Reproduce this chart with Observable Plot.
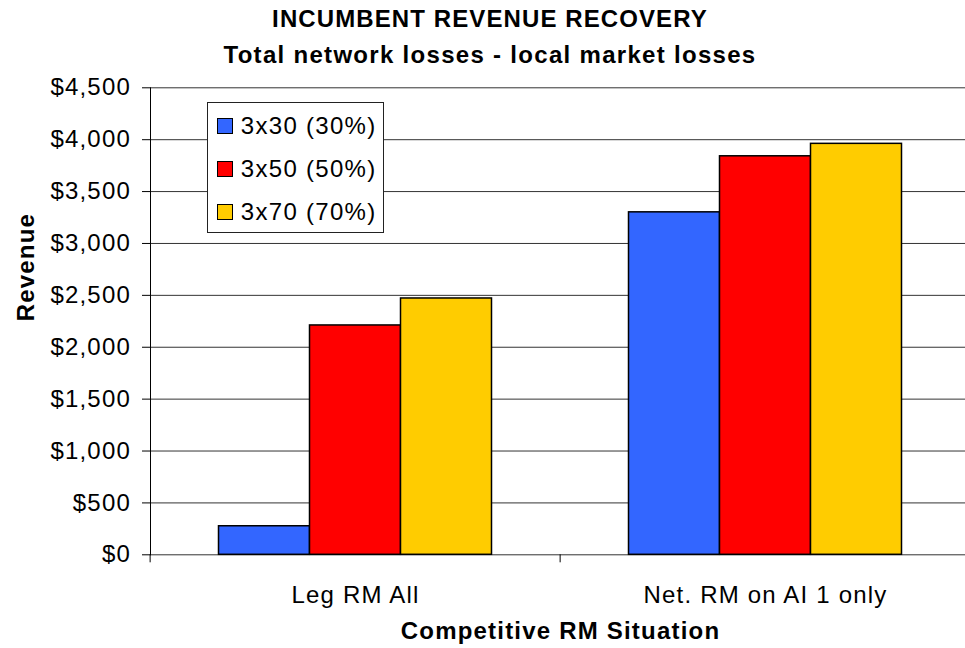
<!DOCTYPE html>
<html>
<head>
<meta charset="utf-8">
<script src="https://cdn.jsdelivr.net/npm/d3@7"></script>
<script src="https://cdn.jsdelivr.net/npm/@observablehq/plot@0.6"></script>
<style>
html, body { margin: 0; padding: 0; background: #fff; overflow: hidden; }
body { width: 965px; height: 648px; position: relative; font-family: "Liberation Sans", Arial, sans-serif; color: #000; }
#header { position: absolute; left: 15px; top: 0; width: 950px; height: 70px; text-align: center; font-weight: bold; font-size: 24px; }
#header .t { position: absolute; left: 0; width: 100%; line-height: 24px; white-space: nowrap; }
#title { top: 7px; letter-spacing: 1.1px; }
#subtitle { top: 43px; letter-spacing: 1.3px; }
#chart { position: absolute; left: 0; top: 70px; }
#chart svg { display: block; }
#chart svg text { letter-spacing: 1.2px; }
#legend { position: absolute; left: 207px; top: 102px; width: 175px; height: 128px; border: 1px solid #222; background: #fff; padding-top: 1px; font-size: 24px; letter-spacing: 1.3px; }
#legend .item { height: 43px; display: flex; align-items: center; white-space: nowrap; }
#legend .sw { width: 16px; height: 16px; box-sizing: border-box; border: 1.5px solid #000; margin-left: 8.5px; margin-right: 8.3px; flex: none; }
</style>
</head>
<body>
<div id="header"><div class="t" id="title"></div><div class="t" id="subtitle"></div></div>
<div id="chart"></div>
<div id="legend"></div>
<script>
const categories = ["Leg RM All", "Net. RM on AI 1 only"];
const series = ["3x30 (30%)", "3x50 (50%)", "3x70 (70%)"];
const values3x30 = [275, 3300];
const values3x50 = [2210, 3840];
const values3x70 = [2470, 3960];
const yTicks = [0, 500, 1000, 1500, 2000, 2500, 3000, 3500, 4000, 4500];
const colors = ["#3366FF", "#FF0000", "#FFCC00"];
const titleText = "INCUMBENT REVENUE RECOVERY";
const subtitleText = "Total network losses - local market losses";
const xLabel = "Competitive RM Situation";
const yLabel = "Revenue";

const seriesValues = [values3x30, values3x50, values3x70];
const data = series.flatMap((s, i) => categories.map((c, j) => ({category: c, series: s, value: seriesValues[i][j]})));

document.getElementById("title").textContent = titleText;
document.getElementById("subtitle").textContent = subtitleText;

const width = 965, height = 578;
const marginLeft = 149.5, marginRight = -6, marginTop = 17.3, marginBottom = 93.7;
const halfStep = (width - marginLeft - marginRight) / categories.length / 2;

const chart = Plot.plot({
  width, height, marginLeft, marginRight, marginTop, marginBottom,
  style: {background: "#fff", color: "#000", fontFamily: "'Liberation Sans', Arial, sans-serif", overflow: "visible"},
  fx: {domain: categories, padding: 0},
  x: {domain: series, paddingInner: 0, paddingOuter: 0.74, axis: null},
  y: {domain: [0, 4500]},
  color: {domain: series, range: colors},
  marks: [
    Plot.gridY(yTicks, {stroke: "#333", strokeOpacity: 1}),
    Plot.barY(data, {fx: "category", x: "series", y: "value", fill: "series", stroke: "#000", strokeWidth: 1.5}),
    Plot.frame({anchor: "left", facetAnchor: "left", stroke: "#000"}),
    Plot.axisY(yTicks, {tickSize: 8, tickPadding: 11.5, fontSize: 24, tickFormat: d => "$" + d3.format(",")(d), label: null, stroke: "#000"}),
    Plot.axisFx({anchor: "bottom", tickSize: 8, tickFormat: () => "", dx: -halfStep, label: null, stroke: "#000"}),
    Plot.axisFx({anchor: "bottom", tickSize: 0, tickPadding: 30.7, fontSize: 24, label: null}),
    Plot.text([yLabel], {frameAnchor: "left", rotate: -90, dx: -124.5, fontSize: 24, fontWeight: "bold", facetAnchor: "left"}),
    Plot.text([xLabel], {frameAnchor: "bottom", dy: 84.5, fontSize: 24, fontWeight: "bold", facet: "super"})
  ]
});
document.getElementById("chart").appendChild(chart);

const legend = document.getElementById("legend");
series.forEach((s, i) => {
  const item = document.createElement("div");
  item.className = "item";
  const sw = document.createElement("span");
  sw.className = "sw";
  sw.style.background = colors[i];
  const label = document.createElement("span");
  label.textContent = s;
  item.appendChild(sw);
  item.appendChild(label);
  legend.appendChild(item);
});
</script>
</body>
</html>
